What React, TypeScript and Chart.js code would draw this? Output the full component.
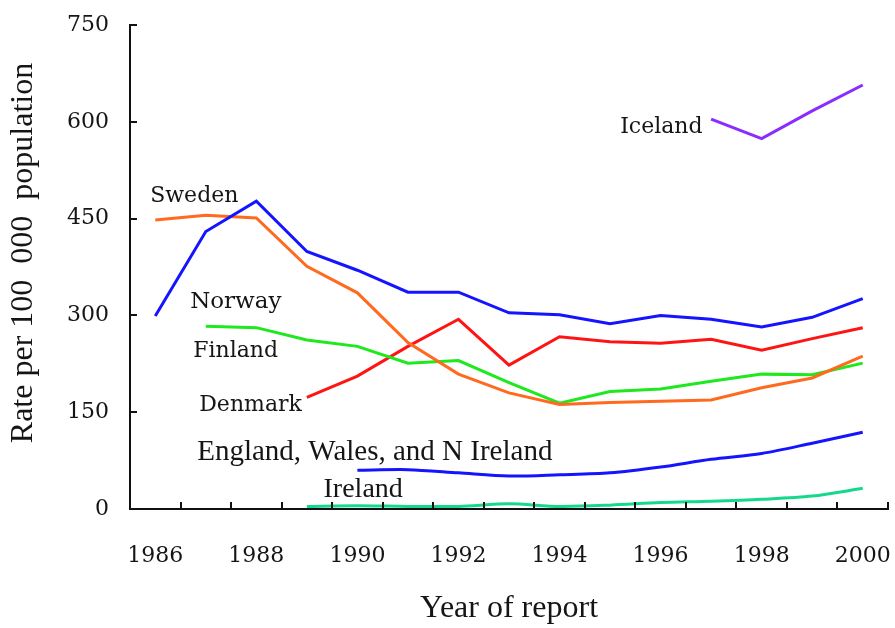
import React, { useEffect, useRef } from 'react';
import { Chart, registerables } from 'chart.js';

Chart.register(...registerables);

const years = [1986, 1987, 1988, 1989, 1990, 1991, 1992, 1993, 1994, 1995, 1996, 1997, 1998, 1999, 2000];
const labelYears = [1986, 1988, 1990, 1992, 1994, 1996, 1998, 2000];
const yTicks = [0, 150, 300, 450, 600, 750];

const norway = [299, 430, 477, 399, 370, 336, 336, 304, 301, 287, 300, 294, 282, 297, 326];
const sweden = [448, 455, 451, 376, 335, 258, 209, 180, 162, 165, 167, 169, 188, 203, 237];
const finland = [null, 283, 281, 262, 252, 226, 230, 196, 164, 182, 186, 198, 209, 208, 226];
const denmark = [null, null, null, 173, 206, 252, 294, 223, 267, 259, 257, 263, 246, 264, 281];
const england = [null, null, null, null, 60, 61, 56, 51, 53, 56, 65, 77, 86, 102, 119];
const ireland = [null, null, null, 4, 5, 4, 4, 8, 4, 6, 10, 12, 15, 20, 32];
const iceland = [null, null, null, null, null, null, null, null, null, null, null, 604, 574, 617, 657];

const seriesNames = ['Norway', 'Sweden', 'Finland', 'Denmark', 'England, Wales, and N Ireland', 'Ireland', 'Iceland'];
const seriesValues = [norway, sweden, finland, denmark, england, ireland, iceland];
const seriesColors = ['#1414ff', '#ff6a1f', '#1ee81e', '#ff1414', '#1414ff', '#14d98c', '#8a2cff'];
const seriesTension = [0, 0, 0, 0, 0.3, 0.3, 0];

const labelTexts = ['Sweden', 'Norway', 'Finland', 'Denmark', 'England, Wales, and N Ireland', 'Ireland', 'Iceland'];
const labelX = [1985.9, 1986.69, 1986.75, 1986.87, 1986.83, 1989.33, 1995.2];
const labelY = [484, 321, 244, 161, 88, 30, 592];
const labelFonts = [
  '22px "DejaVu Serif"',
  '23px "DejaVu Serif"',
  '22px "DejaVu Serif"',
  '22px "DejaVu Serif"',
  '29px "Liberation Serif"',
  '28px "Liberation Serif"',
  '22px "DejaVu Serif"',
];

const tickFont = '22px "DejaVu Serif"';
const yTitle = 'Rate per 100  000  population';

const overlayPlugin = {
  id: 'overlay',
  afterDraw(chart: any) {
    const { ctx, chartArea, scales } = chart;
    const xs = scales.x;
    const ys = scales.y;
    ctx.save();
    ctx.strokeStyle = '#111';
    ctx.lineWidth = 2;
    ctx.beginPath();
    for (const v of yTicks) {
      const py = Math.round(ys.getPixelForValue(v));
      ctx.moveTo(chartArea.left, py);
      ctx.lineTo(chartArea.left + 7, py);
    }
    const bounds = [years[0] - 0.5, ...years.map((y) => y + 0.5)];
    for (const b of bounds) {
      const px = Math.round(xs.getPixelForValue(b));
      ctx.moveTo(px, chartArea.bottom);
      ctx.lineTo(px, chartArea.bottom - 7);
    }
    ctx.stroke();

    ctx.fillStyle = '#151515';
    ctx.font = tickFont;
    ctx.textBaseline = 'middle';
    ctx.textAlign = 'right';
    for (const v of yTicks) {
      ctx.fillText(String(v), chartArea.left - 21, ys.getPixelForValue(v));
    }
    ctx.textAlign = 'center';
    for (const v of labelYears) {
      ctx.fillText(String(v), xs.getPixelForValue(v), chartArea.bottom + 47);
    }

    // y axis title
    ctx.save();
    ctx.translate(24, (chartArea.top + chartArea.bottom) / 2 - 14);
    ctx.rotate(-Math.PI / 2);
    ctx.font = '32px "Liberation Serif"';
    ctx.textAlign = 'center';
    ctx.fillText(yTitle, 0, 0);
    ctx.restore();

    ctx.textAlign = 'left';
    labelTexts.forEach((t, i) => {
      ctx.font = labelFonts[i];
      ctx.fillText(t, xs.getPixelForValue(labelX[i]), ys.getPixelForValue(labelY[i]));
    });
    ctx.restore();
  },
};

export default function App() {
  const ref = useRef<HTMLCanvasElement | null>(null);

  useEffect(() => {
    if (!ref.current) return;
    const datasets = seriesNames.map((name, i) => ({
      label: name,
      data: years.map((yr, j) => ({ x: yr, y: seriesValues[i][j] })),
      borderColor: seriesColors[i],
      backgroundColor: seriesColors[i],
      borderWidth: 3,
      pointRadius: 0,
      tension: seriesTension[i],
      spanGaps: false,
    }));
    const chart = new Chart(ref.current, {
      type: 'line',
      data: { datasets },
      plugins: [overlayPlugin],
      options: {
        animation: false,
        responsive: false,
        layout: { autoPadding: false, padding: { top: 25, right: 7, left: 0, bottom: 0 } },
        plugins: { legend: { display: false }, tooltip: { enabled: false } },
        scales: {
          x: {
            type: 'linear',
            min: 1985.5,
            max: 2000.5,
            afterBuildTicks: (scale: any) => {
              scale.ticks = labelYears.map((v) => ({ value: v }));
            },
            afterFit: (scale: any) => {
              scale.height = 119;
            },
            grid: { display: false, drawTicks: false },
            border: { display: true, color: '#111', width: 2 },
            ticks: { display: false },
            title: {
              display: true,
              text: 'Year of report',
              color: '#151515',
              font: { family: 'Liberation Serif', size: 32 },
              padding: { top: 0, bottom: 0 },
            },
          },
          y: {
            type: 'linear',
            min: 0,
            max: 750,
            afterBuildTicks: (scale: any) => {
              scale.ticks = yTicks.map((v) => ({ value: v }));
            },
            afterFit: (scale: any) => {
              scale.width = 130;
            },
            grid: { display: false, drawTicks: false },
            border: { display: true, color: '#111', width: 2 },
            ticks: { display: false },
            title: { display: false },
          },
        },
      },
    } as any);
    return () => chart.destroy();
  }, []);

  return (
    <div style={{ position: 'fixed', left: 0, top: 0, width: 895, height: 628, background: '#fff' }}>
      <canvas ref={ref} width={895} height={628} style={{ display: 'block', width: 895, height: 628 }} />
    </div>
  );
}
